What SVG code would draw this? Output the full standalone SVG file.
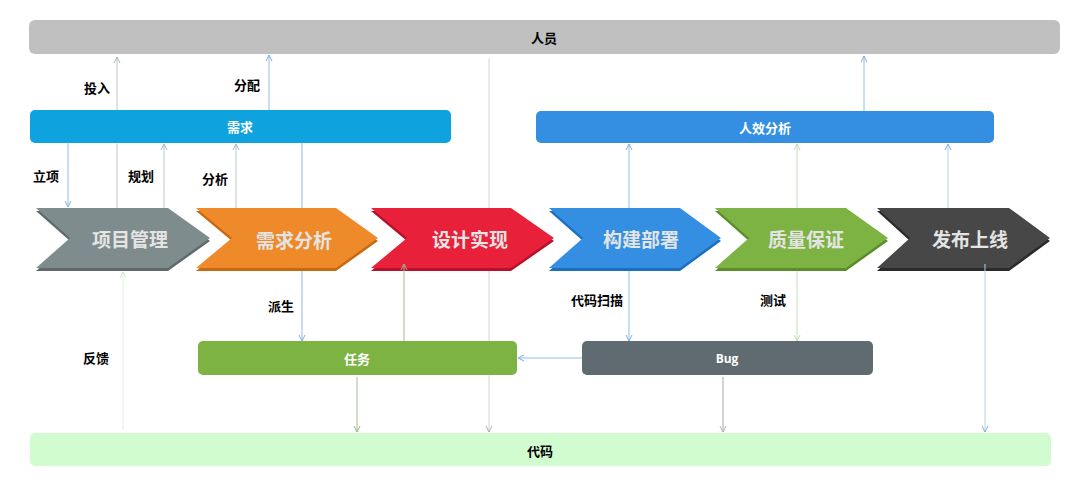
<svg xmlns="http://www.w3.org/2000/svg" width="1080" height="480" viewBox="0 0 1080 480">
<defs>
<style>
.lbl{font-family:"Noto Sans CJK SC","Liberation Sans",sans-serif;font-weight:bold;font-size:13px;fill:#000;text-anchor:middle;dominant-baseline:central}
.bar{font-family:"Noto Sans CJK SC","Liberation Sans",sans-serif;font-weight:bold;font-size:13px;text-anchor:middle;dominant-baseline:central}
.chev{font-family:"Noto Sans CJK SC","Liberation Sans",sans-serif;font-weight:bold;font-size:19px;fill:#e4e4e4;text-anchor:middle;dominant-baseline:central}
.c{fill:none;stroke-width:1}
</style>
<marker id="mb" viewBox="0 0 8 8" refX="7" refY="4" markerWidth="8" markerHeight="8" markerUnits="userSpaceOnUse" orient="auto"><path d="M1,1 L7,4 L1,7" fill="none" stroke="#7fb0e0" stroke-width="1"/></marker>
<marker id="mg" viewBox="0 0 8 8" refX="7" refY="4" markerWidth="8" markerHeight="8" markerUnits="userSpaceOnUse" orient="auto"><path d="M1,1 L7,4 L1,7" fill="none" stroke="#a8b4bc" stroke-width="1"/></marker>
<marker id="mgr" viewBox="0 0 8 8" refX="7" refY="4" markerWidth="8" markerHeight="8" markerUnits="userSpaceOnUse" orient="auto"><path d="M1,1 L7,4 L1,7" fill="none" stroke="#98b488" stroke-width="1"/></marker>
<marker id="mlg" viewBox="0 0 8 8" refX="7" refY="4" markerWidth="8" markerHeight="8" markerUnits="userSpaceOnUse" orient="auto"><path d="M1,1 L7,4 L1,7" fill="none" stroke="#c4dcb0" stroke-width="1"/></marker>
<marker id="mvlg" viewBox="0 0 8 8" refX="7" refY="4" markerWidth="8" markerHeight="8" markerUnits="userSpaceOnUse" orient="auto"><path d="M1,1 L7,4 L1,7" fill="none" stroke="#d4e8d0" stroke-width="1"/></marker>
<marker id="mgy" viewBox="0 0 8 8" refX="7" refY="4" markerWidth="8" markerHeight="8" markerUnits="userSpaceOnUse" orient="auto"><path d="M1,1 L7,4 L1,7" fill="none" stroke="#b0b0b0" stroke-width="1"/></marker>
</defs>
<rect width="1080" height="480" fill="#ffffff"/>

<g id="connectors">
<line class="c" x1="68" y1="143" x2="68" y2="207" stroke="#8fbde6" marker-end="url(#mb)"/>
<line class="c" x1="117" y1="230" x2="117" y2="57" stroke="#bcc6ce" marker-end="url(#mg)"/>
<line class="c" x1="164" y1="230" x2="164" y2="144" stroke="#bcc6ce" marker-end="url(#mg)"/>
<line class="c" x1="236" y1="230" x2="236" y2="144" stroke="#bcc6ce" marker-end="url(#mg)"/>
<line class="c" x1="269" y1="120" x2="269" y2="55" stroke="#8fbde6" marker-end="url(#mb)"/>
<line class="c" x1="302" y1="143" x2="302" y2="341" stroke="#8fbde6" marker-end="url(#mb)"/>
<line class="c" x1="489" y1="58" x2="489" y2="432" stroke="#d4d4d4" marker-end="url(#mgy)"/>
<line class="c" x1="123" y1="430" x2="123" y2="272" stroke="#e2f0de" marker-end="url(#mvlg)"/>
<line class="c" x1="357" y1="377" x2="357" y2="432" stroke="#a4bc94" marker-end="url(#mgr)"/>
<line class="c" x1="582" y1="358" x2="518" y2="358" stroke="#8fbde6" marker-end="url(#mb)"/>
<line class="c" x1="723" y1="377" x2="723" y2="432" stroke="#a8a8a8" marker-end="url(#mgy)"/>
<line class="c" x1="629" y1="230" x2="629" y2="144" stroke="#8fbde6" marker-end="url(#mb)"/>
<line class="c" x1="629" y1="240" x2="629" y2="341" stroke="#8fbde6" marker-end="url(#mb)"/>
<line class="c" x1="797" y1="230" x2="797" y2="144" stroke="#c8ddb6" marker-end="url(#mlg)"/>
<line class="c" x1="797" y1="240" x2="797" y2="341" stroke="#c8ddb6" marker-end="url(#mlg)"/>
<line class="c" x1="948" y1="230" x2="948" y2="144" stroke="#b4cfee" marker-end="url(#mb)"/>
<line class="c" x1="864" y1="120" x2="864" y2="56" stroke="#8fbde6" marker-end="url(#mb)"/>
</g>

<g id="node-renyuan">
<rect x="29" y="20" width="1031" height="34" rx="6" fill="#c0c0c0"/>
<text class="bar" x="544" y="37" fill="#000">人员</text>
</g>
<g id="node-xuqiu">
<rect x="30" y="110" width="421" height="33" rx="5" fill="#0ea2de"/>
<text class="bar" x="240" y="126.5" fill="#ffffff">需求</text>
</g>
<g id="node-renxiao">
<rect x="536" y="111" width="458" height="32" rx="5" fill="#348fe2"/>
<text class="bar" x="765" y="127" fill="#ffffff">人效分析</text>
</g>

<g id="node-xmgl">
<polygon points="36,211 168,211 210,241 168,271 36,271 70,241" fill="#5e6a6c"/>
<polygon points="36,208 168,208 210,238 168,268 36,268 70,238" fill="#7f8c8d"/>
<text class="chev" x="130" y="238">项目管理</text>
</g>
<g id="node-xqfx">
<polygon points="196,211 336,211 378,241 336,271 196,271 232,241" fill="#c86810"/>
<polygon points="196,208 336,208 378,238 336,268 196,268 232,238" fill="#ee8a2a"/>
<text class="chev" x="294" y="239">需求分析</text>
</g>
<g id="node-sjsx">
<polygon points="371,211 511,211 554,241 511,271 371,271 407,241" fill="#b8102a"/>
<polygon points="371,208 511,208 554,238 511,268 371,268 407,238" fill="#e8203a"/>
<text class="chev" x="470" y="238">设计实现</text>
</g>
<g id="node-gjbs">
<polygon points="549,211 680,211 721,241 680,271 549,271 583,241" fill="#1c6fc0"/>
<polygon points="549,208 680,208 721,238 680,268 549,268 583,238" fill="#348fe2"/>
<text class="chev" x="641" y="238">构建部署</text>
</g>
<g id="node-zlbz">
<polygon points="715,211 846,211 888,241 846,271 715,271 749,241" fill="#5a8c2a"/>
<polygon points="715,208 846,208 888,238 846,268 715,268 749,238" fill="#7cb342"/>
<text class="chev" x="806" y="238">质量保证</text>
</g>
<g id="node-fbsx">
<polygon points="877,211 1009,211 1050,241 1009,271 877,271 910,241" fill="#2a2a2a"/>
<polygon points="877,208 1009,208 1050,238 1009,268 877,268 910,238" fill="#474747"/>
<text class="chev" x="970" y="238">发布上线</text>
</g>

<g id="connectors-front">
<line class="c" x1="404" y1="342" x2="404" y2="264" stroke="#a4bc94" marker-end="url(#mgr)"/>
<line class="c" x1="985" y1="264" x2="985" y2="432" stroke="#b4cfee" marker-end="url(#mb)"/>
</g>

<g id="node-renwu">
<rect x="198" y="341" width="319" height="34" rx="5" fill="#7cb342"/>
<text class="bar" x="357" y="358" fill="#ffffff">任务</text>
</g>
<g id="node-bug">
<rect x="582" y="341" width="291" height="34" rx="5" fill="#5f6b70"/>
<text class="bar" x="727" y="358" fill="#ffffff" style="font-family:'Open Sans','Liberation Sans',sans-serif;font-size:12px">Bug</text>
</g>
<g id="node-daima">
<rect x="30" y="433" width="1021" height="33" rx="5" fill="#d0fcd0"/>
<text class="bar" x="540" y="450" fill="#000">代码</text>
</g>

<g id="labels">
<text class="lbl" x="97" y="87">投入</text>
<text class="lbl" x="247" y="84">分配</text>
<text class="lbl" x="46" y="175">立项</text>
<text class="lbl" x="141" y="175">规划</text>
<text class="lbl" x="215" y="178">分析</text>
<text class="lbl" x="281" y="305">派生</text>
<text class="lbl" x="96" y="357">反馈</text>
<text class="lbl" x="597" y="299">代码扫描</text>
<text class="lbl" x="773" y="299">测试</text>
</g>
</svg>
